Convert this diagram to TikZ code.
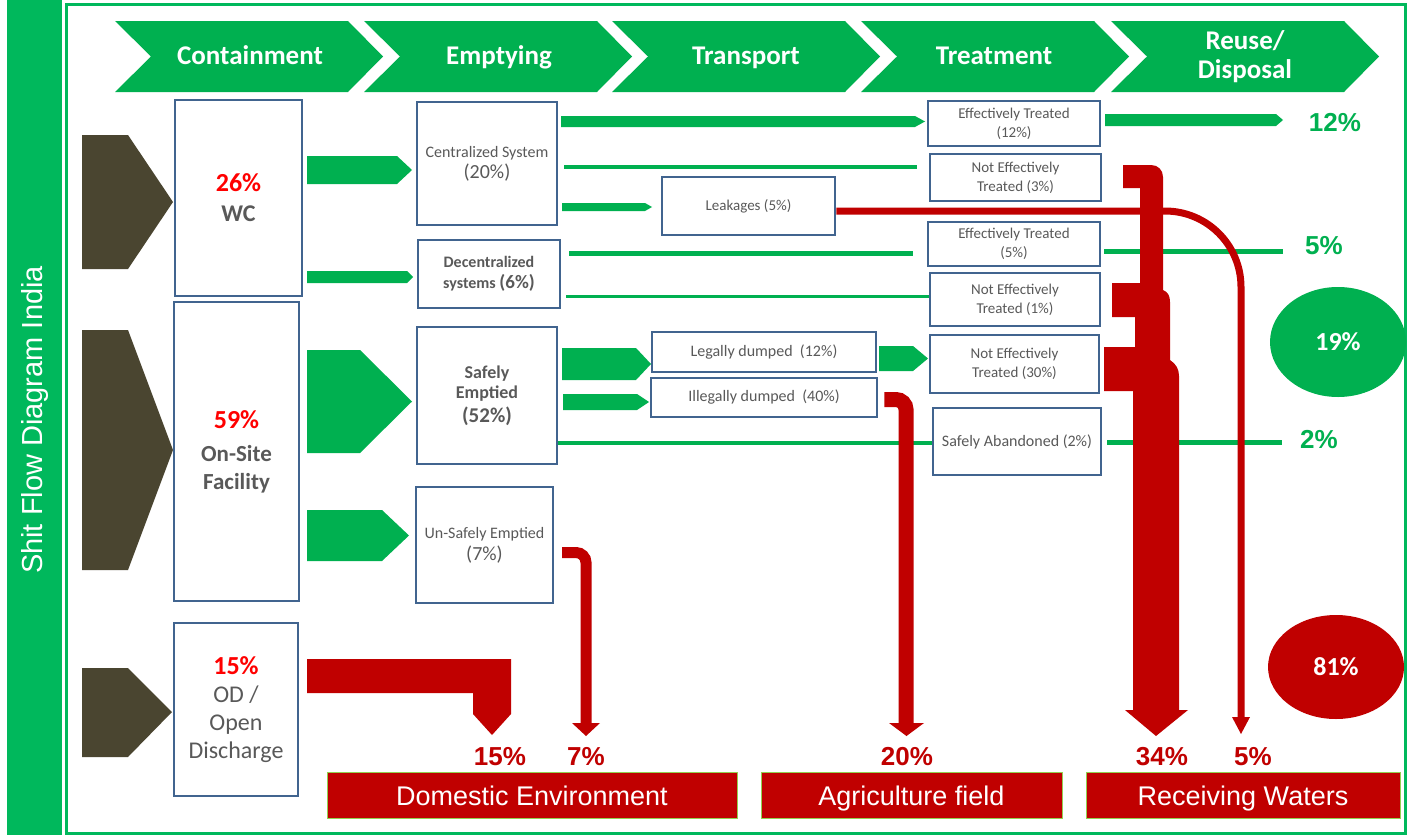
\documentclass[tikz,border=0pt]{standalone}
\usepackage{fontspec}
\setmainfont{Carlito}
\newfontfamily\arialf{Liberation Sans}
\usetikzlibrary{shapes.geometric}
\newcommand\fsz[2]{\fontsize{#1}{#2}\selectfont}
\definecolor{sfgreen}{HTML}{00B050}
\definecolor{bargreen}{HTML}{00B85C}
\definecolor{sfred}{HTML}{C00000}
\definecolor{pctred}{HTML}{FF0000}
\definecolor{boxblue}{HTML}{41648F}
\definecolor{txtgray}{HTML}{595959}
\definecolor{chevdark}{HTML}{4A4530}
\definecolor{sinkedge}{HTML}{92D050}
\newcommand\headchev[1]{\fill[sfgreen] (#1,21) -- ++(233,0) -- ++(35,35.5) -- ++(-35,35.5) -- ++(-233,0) -- ++(36,-35.5) -- cycle;}
\newcommand\flowblock[6]{\fill[#1] (#2,#5-#6) -- (#3,#5-#6) -- (#4,#5) -- (#3,#5+#6) -- (#2,#5+#6) -- cycle;}
\begin{document}
\begin{tikzpicture}[x=1pt,y=-1pt,
  headtxt/.style={text=white,font=\fsz{27}{29}\bfseries,align=center,inner sep=0pt,anchor=base},
  box/.style={draw=boxblue,line width=2.5pt,fill=white,inner sep=0pt,align=center,text=txtgray},
  tbox/.style={box,font=\fsz{15}{19}},
  sink/.style={fill=sfred,draw=sinkedge,line width=1pt,text=white,font=\arialf\fsz{27}{30},inner sep=0pt,minimum height=46pt,text height=20pt,text depth=0pt},
  gpct/.style={text=sfgreen,font=\arialf\bfseries\fsz{26}{28},inner sep=0pt},
  rpct/.style={text=sfred,font=\arialf\bfseries\fsz{26}{28},inner sep=0pt},
  gline/.style={draw=sfgreen},
  redflow/.style={draw=sfred}]
\useasboundingbox (0,0) rectangle (1408,835);
\fill[white] (0,0) rectangle (1408,835);

% side bar with the title and the outer frame
\fill[bargreen] (7,0) rectangle (62,835);
\node[rotate=90,text=white,font=\arialf\fsz{29}{32},inner sep=0pt] (title) at (35,420) {Shit Flow Diagram India};
\draw[bargreen,line width=3pt] (66,4) rectangle (1405,833);

% stage headers
\headchev{115}\headchev{364}\headchev{612}\headchev{861}\headchev{1111}
\node[headtxt] (hcon) at (250,64) {Containment};
\node[headtxt] (hemp) at (499,64) {Emptying};
\node[headtxt] (htra) at (746,64) {Transport};
\node[headtxt] (htre) at (994,64) {Treatment};
\node[headtxt] (hreu) at (1245,78) {Reuse/\\Disposal};

% source chevrons
\fill[chevdark] (82,135) -- (128,135) -- (173,202) -- (128,269) -- (82,269) -- cycle;
\fill[chevdark] (82,330) -- (128,330) -- (173,450) -- (128,570) -- (82,570) -- cycle;
\fill[chevdark] (82,668) -- (128,668) -- (172,712) -- (128,757) -- (82,757) -- cycle;

% containment
\node[box,minimum width=127pt,minimum height=196pt,font=\fsz{24}{30}\bfseries] (wc) at (238.5,198)
  {\textcolor{pctred}{\fsz{26}{30}26\%}\\WC};
\node[box,minimum width=125pt,minimum height=299pt,font=\fsz{23}{28}\bfseries] (onsite) at (236.5,451.5)
  {\textcolor{pctred}{\fsz{26}{28}59\%}\\[5pt]On-Site\\Facility};
\node[box,minimum width=124pt,minimum height=173pt,font=\fsz{24}{28}] (od) at (236,709.5)
  {\textcolor{pctred}{\bfseries\fsz{26}{28}15\%}\\OD /\\Open\\Discharge};

% emptying
\node[box,minimum width=140pt,minimum height=123pt,font=\fsz{16}{21}] (cent) at (487,163.5)
  {Centralized System\\{\fsz{20}{21}(20\%)}};
\node[box,minimum width=142pt,minimum height=68pt,font=\fsz{16}{21}\bfseries] (decent) at (489,274)
  {Decentralized\\systems {\fsz{19}{21}(6\%)}};
\node[box,minimum width=140pt,minimum height=137pt,font=\fsz{18}{20}\bfseries] (safe) at (487,395.5)
  {Safely\\Emptied\\[4pt]{\fsz{21}{22}(52\%)}};
\node[box,minimum width=137pt,minimum height=116pt,font=\fsz{16}{22}] (unsafe) at (484.5,545)
  {Un-Safely Emptied\\{\fsz{20}{22}(7\%)}};

% transport
\node[box,minimum width=173pt,minimum height=58pt,font=\fsz{15}{19}] (leak) at (748.5,206) {Leakages (5\%)};
\node[box,minimum width=224pt,minimum height=40pt,font=\fsz{16}{19}] (legal) at (764,352) {Legally dumped~ (12\%)};
\node[box,minimum width=226pt,minimum height=39pt,font=\fsz{16}{19}] (illegal) at (764,397.5) {Illegally dumped~ (40\%)};

% treatment
\node[tbox,minimum width=172pt,minimum height=45pt] (et12) at (1014,123.5) {Effectively Treated\\(12\%)};
\node[tbox,minimum width=171pt,minimum height=47pt] (net3) at (1015.5,177.5) {Not Effectively\\Treated (3\%)};
\node[tbox,minimum width=172pt,minimum height=44pt] (et5) at (1014,244) {Effectively Treated\\(5\%)};
\node[tbox,minimum width=170pt,minimum height=53pt] (net1) at (1015,299.5) {Not Effectively\\Treated (1\%)};
\node[tbox,minimum width=169pt,minimum height=58pt] (net30) at (1014.5,364) {Not Effectively\\Treated (30\%)};
\node[tbox,minimum width=168pt,minimum height=67pt,font=\fsz{16}{19}] (sab) at (1017,441.5) {Safely Abandoned (2\%)};

% green flows: containment to emptying
\flowblock{sfgreen}{307}{397}{412}{170}{14}
\flowblock{sfgreen}{307}{407}{413}{277}{6}
\flowblock{sfgreen}{307}{360}{412}{401.5}{51.5}
\flowblock{sfgreen}{307}{382}{409}{535.5}{25.5}

% green flows: emptying onwards
\flowblock{sfgreen}{561}{915}{925}{121.5}{5.5}
\draw[gline,line width=4pt] (564,167) -- (917,167);
\flowblock{sfgreen}{562}{645}{652}{207}{4}
\draw[gline,line width=5pt] (569,253) -- (913,253);
\draw[gline,line width=3pt] (566,296) -- (net1.west |- 0,296);
\flowblock{sfgreen}{562}{636}{651}{364}{16}
\flowblock{sfgreen}{563}{637}{649}{402}{8}
\draw[gline,line width=4pt] (safe.east |- 0,443) -- (sab.west |- 0,443);
\flowblock{sfgreen}{879}{913}{928}{358.5}{12.5}
\flowblock{sfgreen}{1105}{1276}{1283}{120}{6}
\draw[gline,line width=5pt] (1104,251) -- (1283,251);
\draw[gline,line width=5pt] (1107,442) -- (1282,442);

% red flows
\fill[sfred] (307,659) -- (511,659) -- (511,714) -- (492,735) -- (473,714) -- (473,693) -- (307,693) -- cycle;
\draw[redflow,line width=11pt,rounded corners=10pt] (562,552.5) -| (586,724);
\fill[sfred] (572,723) -- (600,723) -- (586,736) -- cycle;
\draw[redflow,line width=15pt,rounded corners=10pt] ([xshift=6pt]illegal.east |- 0,399.5) -| (906,724);
\fill[sfred] (889,723) -- (924,723) -- (906.5,736) -- cycle;
\fill[sfred] (1123,165) -- (1151,165) .. controls (1158,165) and (1163,170) .. (1163,177)
  -- (1163,290) .. controls (1168,292) and (1170,296) .. (1170,302)
  -- (1170,360) .. controls (1176,364) and (1179,369) .. (1179,376)
  -- (1179,710) -- (1188,710) -- (1156,736) -- (1125,710) -- (1133,710)
  -- (1133,391) -- (1104,391) -- (1104,347) -- (1135,347) -- (1135,317)
  -- (1112,317) -- (1112,283) -- (1140,283) -- (1140,188) -- (1123,188) -- cycle;
\draw[redflow,line width=7pt,rounded corners=76pt] (leak.east |- 0,211) -| (1241,719);
\fill[sfred] (1232,717) -- (1250,717) -- (1241,734) -- cycle;

% outcome percentages
\node[gpct] (o12) at (1335,123) {12\%};
\node[gpct] (o5) at (1324,246) {5\%};
\node[gpct] (o2) at (1319,440) {2\%};
\node[rpct] (d15) at (500,757) {15\%};
\node[rpct] (d7) at (586,757) {7\%};
\node[rpct] (a20) at (907,757) {20\%};
\node[rpct] (r34) at (1162,757) {34\%};
\node[rpct] (r5) at (1253,757) {5\%};

\node[ellipse,fill=sfgreen,minimum width=136pt,minimum height=110pt,inner sep=0pt,text=white,font=\fsz{26}{28}\bfseries] (safeall) at (1338,342) {19\%};
\node[ellipse,fill=sfred,minimum width=136pt,minimum height=104pt,inner sep=0pt,text=white,font=\fsz{26}{28}\bfseries] (unsafeall) at (1336,667) {81\%};

% destinations
\node[sink,minimum width=410pt] (domestic) at (532,795) {Domestic Environment};
\node[sink,minimum width=301pt] (agri) at (911.5,795) {Agriculture field};
\node[sink,minimum width=314pt] (recv) at (1243,795) {Receiving Waters};
\end{tikzpicture}
\end{document}
